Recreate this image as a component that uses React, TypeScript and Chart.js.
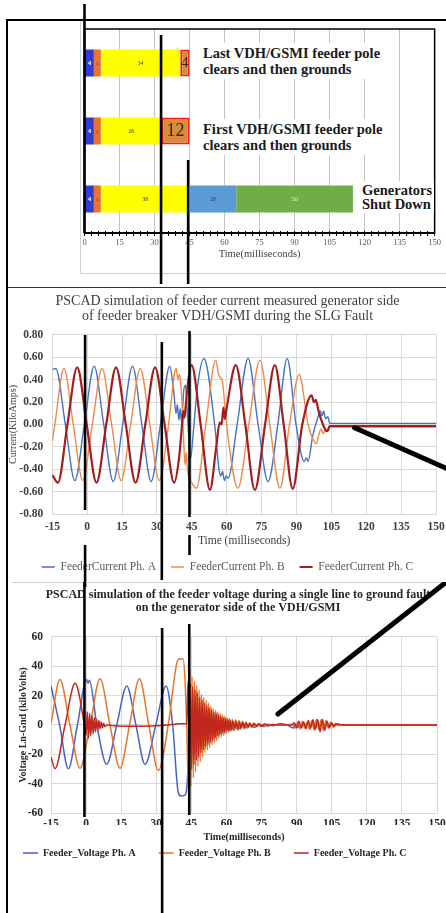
import React, { useEffect, useRef } from 'react';
import { Chart, registerables } from 'chart.js';

Chart.register(...registerables);

const SERIF = "'Liberation Serif', 'Times New Roman', Times, serif";
Chart.defaults.font.family = SERIF;

// ---------- Top chart: event timeline (stacked horizontal bars, ms) ----------
const TIMELINE_ROWS = ['Last VDH/GSMI feeder pole', 'First VDH/GSMI feeder pole', 'Generators Shut Down'];
const SEG_RELAY = [4, 4, 4];
const SEG_BREAKER = [3, 3, 3];
const SEG_CLEARING = [34, 26, 38];
const SEG_POLE = [4, 12, 20];
const SEG_SHUTDOWN = [null, null, 50];
const TIMELINE_TICKS = [0, 15, 30, 45, 60, 75, 90, 105, 120, 135, 150];

// ---------- Middle chart: feeder current (kA) vs time (ms) ----------
const TIME_TICKS = [-15, 0, 15, 30, 45, 60, 75, 90, 105, 120, 135, 150];
const CURRENT_TICKS = [-0.8, -0.6, -0.4, -0.2, 0, 0.2, 0.4, 0.6, 0.8];
const CURRENT_A: [number, number][] = [
  [-15, 0.49], [-13.5, 0.5], [-9.4, 0], [-5.3, -0.5], [-1.2, 0], [3, 0.52], [7.1, 0], [11.2, -0.51],
  [15.3, 0], [19.5, 0.52], [23.5, 0], [27.5, -0.51], [31.5, 0], [35.5, 0.52], [37.2, 0.3], [38.2, 0.1],
  [38.8, 0.18], [39.4, 0.04], [40, 0.14], [40.6, 0.02], [41.5, 0.3], [42.3, 0.35], [43.2, 0.05],
  [44.5, -0.3], [45.5, -0.1], [47.5, 0.35], [50.2, 0.59], [54.8, 0], [56.8, -0.42], [57.5, -0.46],
  [58.2, -0.42], [59, -0.5], [59.8, -0.46], [60.6, -0.48], [64.5, 0], [69.2, 0.59], [73.5, 0],
  [77.8, -0.51], [82, 0], [86, 0.59], [89.8, 0], [93.3, -0.33], [94.3, -0.3], [95, -0.33], [97, -0.1],
  [99, 0.05], [100.3, 0.12], [101, 0.08], [101.7, 0.12], [102.5, 0.05], [103.5, 0.07], [104.3, 0.01],
  [150, 0.01],
];
const CURRENT_B: [number, number][] = [
  [-15, -0.15], [-13.9, 0], [-10, 0.5], [-6, 0], [-1.9, -0.5], [2.2, 0], [6.4, 0.5], [10.5, 0],
  [14.6, -0.5], [18.7, 0], [22.8, 0.5], [26.9, 0], [31, -0.5], [35, 0], [37.5, 0.45], [38.3, 0.5],
  [39, 0.4], [39.7, 0.45], [40.3, 0.35], [41, 0.1], [41.6, -0.2], [42.1, -0.36], [42.6, -0.25],
  [43.1, -0.4], [45, -0.52], [47, -0.57], [51, 0], [55.3, 0.575], [56.5, 0.45], [57.2, 0.42],
  [58, 0.4], [59.5, 0.1], [60.5, -0.1], [64.8, -0.57], [69.5, 0], [74.3, 0.575], [78.5, 0],
  [82.9, -0.57], [87, 0], [91.2, 0.45], [92, 0.4], [95, 0], [97.5, -0.15], [98.6, -0.17],
  [99.5, -0.1], [100.5, -0.04], [101.5, -0.08], [102.5, -0.04], [103.5, -0.06], [104.3, -0.02],
  [150, -0.02],
];
const CURRENT_C: [number, number][] = [
  [-15, -0.45], [-12.6, -0.52], [-8.5, 0], [-4.3, 0.51], [-0.2, 0], [4, -0.52], [8.2, 0], [12.4, 0.51],
  [16.6, 0], [20.8, -0.52], [25, 0], [29.2, 0.51], [33.3, 0], [37.4, -0.52], [39.5, -0.3], [40.8, 0],
  [41.3, 0.12], [41.8, 0.06], [42.3, 0.15], [43.2, 0.35], [44.9, 0.53], [48.8, 0], [52.8, -0.585],
  [55.5, -0.2], [57, 0.02], [57.8, 0], [58.6, 0.15], [59.2, 0.05], [60, 0.15], [63.9, 0.53], [68, 0],
  [72.1, -0.585], [76.5, 0], [80.7, 0.53], [84.5, 0], [88.4, -0.575], [92.5, 0], [96.5, 0.26],
  [97.5, 0.2], [98.3, 0.22], [99.5, 0.12], [101, 0.02], [102.5, -0.05], [103.3, -0.06],
  [104.3, -0.015], [150, -0.015],
];

// ---------- Bottom chart: feeder voltage (kV) vs time (ms) ----------
const VOLT_TICKS = [-60, -40, -20, 0, 20, 40, 60];
const VOLT_A: [number, number][] = [
  [-15, 26.6], [-11.3, 0], [-7.6, -29.8], [-3.7, 0], [0.2, 31], [0.8, 28.5], [1.4, 30.5], [4.6, 0],
  [8.8, -26.8], [13.1, 0], [17.4, 26.6], [21.3, 0], [25.2, -26.8], [29.8, 0], [34.2, 26.6], [37, 0],
  [39.4, -46], [40.5, -48.4], [42, -48], [42.8, -46], [43.5, -30], [44, 8], [44.6, -28], [45.2, 5],
  [45.8, -22], [46.4, 3], [47, -20], [47.6, 2], [48.2, -18], [48.8, 0], [49.4, -16], [50, -1],
  [50.6, -14], [51.2, -2], [51.8, -12], [52.4, -2], [53, -10], [53.6, -2], [54.2, -9], [54.8, -2],
  [55.4, -8], [56, -2], [56.6, -7], [57.2, -2], [57.8, -6], [58.4, -1.5], [59, -5], [60, -1],
  [61, -4], [62, -1], [63, -3.5], [64, -0.5], [65, -3], [66.5, 0], [68, -2], [70, 0], [72, -1.5],
  [74, 0.5], [76, -1], [78, 0.5], [80, -0.5], [83, 1], [86, 0], [88.5, -2], [89.5, 0.5], [91, -1.5],
  [93, 0.5], [96, 0], [150, 0],
];
const VOLT_B: [number, number][] = [
  [-15, 1], [-11.2, 31], [-6.9, 0], [-2.6, -29.5], [1.7, 0], [6, 31.5], [10.2, 0], [14.5, -29.5],
  [18.6, 0], [22.8, 31.5], [26.8, 0], [30.9, -31], [35.1, 0], [38.5, 40], [39.5, 45], [41.5, 45],
  [42.3, 30], [43, 0], [43.8, -46], [44.3, 38], [44.8, -42], [45.3, 33], [45.8, -36], [46.3, 30],
  [46.8, -32], [47.3, 27], [47.8, -28], [48.3, 24], [48.8, -25], [49.3, 21], [49.8, -22], [50.3, 19],
  [50.8, -19], [51.3, 17], [51.8, -17], [52.3, 15], [52.8, -15.5], [53.3, 13], [53.8, -13.5],
  [54.3, 11.5], [54.8, -12], [55.3, 10], [55.8, -10.5], [56.3, 9], [56.8, -9], [57.3, 8], [57.8, -8],
  [58.3, 7], [58.8, -7], [59.3, 6], [59.8, -6], [60.3, 5], [60.8, -5], [61.3, 4.5], [61.8, -4.5],
  [62.5, 4], [63.2, -4], [63.9, 3.5], [64.6, -3.5], [65.3, 3], [66, -3], [66.7, 2.5], [67.4, -2.5],
  [68.2, 2], [69, -2], [69.8, 1.6], [70.6, -1.6], [71.5, 1.3], [72.5, -1.3], [73.5, 1.1], [74.5, -1],
  [76, 0.8], [77.5, -0.6], [79, 0.4], [81, 0.2], [83, 0.5], [85, 0], [88, 0.5], [89.5, -2],
  [90.5, 2], [91.5, -2.5], [92.5, 2.5], [93.5, -2], [94.5, 2], [95.5, -3], [96.5, 3], [97.5, -3.5],
  [98.5, 4], [99.5, -3], [100.5, 3.5], [101.5, -4], [102.5, 3], [103.5, -2], [104.5, 2], [105.5, -1.5],
  [106.5, 1], [108, -0.5], [110, 0], [150, 0],
];
const VOLT_C: [number, number][] = [
  [-15, -22], [-13.3, -29.8], [-9, 0], [-4.7, 28.4], [-0.7, 0], [0, -7], [0.5, 9], [1, -9], [1.5, 8],
  [2, -7.5], [2.5, 6.5], [3, -6], [3.5, 5], [4, -4.5], [4.5, 4], [5, -3.5], [5.5, 3], [6, -2.5],
  [6.5, 2], [7, -1.8], [7.5, 1.2], [8, -1], [9, 0], [12, -0.5], [20, -0.8], [28, -0.6], [35, 0],
  [40, 0.8], [43, 1], [43.6, 30], [44.1, -33], [44.6, 28], [45.1, -30], [45.6, 26], [46.1, -27],
  [46.6, 24], [47.1, -24], [47.6, 22], [48.1, -22], [48.6, 19], [49.1, -19], [49.6, 17], [50.1, -17],
  [50.6, 15], [51.1, -15], [51.6, 13.5], [52.1, -13.5], [52.6, 12], [53.1, -12], [53.6, 10.5],
  [54.1, -10.5], [54.6, 9], [55.1, -9], [55.6, 8], [56.1, -7.5], [56.6, 7], [57.1, -6.5], [57.6, 6],
  [58.1, -5.5], [58.6, 5], [59.1, -5], [59.6, 4.5], [60.1, -4], [60.6, 3.8], [61.1, -3.6], [61.6, 3.3],
  [62.1, -3.2], [62.8, 2.8], [63.5, -2.8], [64.2, 2.5], [64.9, -2.4], [65.6, 2.1], [66.3, -2.1],
  [67, 1.8], [67.7, -1.8], [68.5, 1.5], [69.3, -1.5], [70.1, 1.2], [70.9, -1.2], [72, 1], [73, -1],
  [74, 0.8], [75, -0.8], [76.5, 0.6], [78, -0.5], [80, 0.3], [82, 0], [88, 0], [89, 1.5], [90, -2],
  [91, 2.5], [92, -2], [93, 2], [94, -2.5], [95, 3], [96, -2], [97, 3.5], [98, -3], [99, 3.5],
  [100, -4.5], [101, 4], [102, -3.5], [103, 2.5], [104, -2], [105, 1.5], [106, -1], [107, 0.8],
  [109, 0.2], [112, 0], [150, 0],
];

// hand-drawn annotation markers (time in ms, vertical extent in canvas px)
const TOP_MARKS = [{ t: 0, y1: 4, y2: 233 }, { t: 32.8, y1: 35, y2: 284 }, { t: 44.4, y1: 160, y2: 284 }];
const MID_MARKS = [
  { t: -0.9, y1: 48, y2: 223 }, { t: -0.9, y1: 258, y2: 300 }, { t: 32.1, y1: 55, y2: 293 },
  { t: 44, y1: 44, y2: 230 }, { t: 44, y1: 248, y2: 268 },
];
const MID_POINTER: [number, number][] = [[115, -0.03], [158, -0.425]];
const BOT_MARKS = [{ t: -0.7, y1: 0, y2: 235 }, { t: 32.5, y1: 46, y2: 331 }, { t: 44.1, y1: 42, y2: 233 }];
const BOT_POINTER: [number, number][] = [[82, 7.5], [156, 100]];

const SEG_LABEL_STYLE = [
  [{ s: 7, c: '#ffffff', w: 'bold' }, { s: 7, c: '#ffffff', w: 'bold' }, { s: 7, c: '#ffffff', w: 'bold' }],
  [{ s: 5, c: '#333', w: 'normal' }, { s: 5, c: '#333', w: 'normal' }, { s: 5, c: '#333', w: 'normal' }],
  [{ s: 5.5, c: '#333', w: 'normal' }, { s: 5.5, c: '#333', w: 'normal' }, { s: 5.5, c: '#333', w: 'normal' }],
  [{ s: 15, c: '#3a2812', w: 'normal' }, { s: 18, c: '#3a2812', w: 'normal' }, { s: 5.5, c: '#333', w: 'normal' }],
  [null, null, { s: 7, c: '#e8e8e8', w: 'normal' }],
];

const pts = (arr: [number, number][]) => arr.map(([x, y]) => ({ x, y }));

function line(ctx: CanvasRenderingContext2D, x1: number, y1: number, x2: number, y2: number) {
  ctx.beginPath();
  ctx.moveTo(x1, y1);
  ctx.lineTo(x2, y2);
  ctx.stroke();
}

function drawMarks(chart: any, marks: { t: number; y1: number; y2: number }[]) {
  const ctx = chart.ctx;
  const xs = chart.scales.x;
  ctx.save();
  ctx.strokeStyle = '#000';
  ctx.lineWidth = 2.6;
  marks.forEach((m) => {
    const x = xs.getPixelForValue(m.t);
    line(ctx, x, m.y1, x, m.y2);
  });
  ctx.restore();
}

function drawPointer(chart: any, p: [number, number][]) {
  const ctx = chart.ctx;
  const xs = chart.scales.x;
  const ys = chart.scales.y;
  ctx.save();
  ctx.strokeStyle = '#000';
  ctx.lineWidth = 5;
  ctx.lineCap = 'round';
  line(ctx, xs.getPixelForValue(p[0][0]), ys.getPixelForValue(p[0][1]), xs.getPixelForValue(p[1][0]), ys.getPixelForValue(p[1][1]));
  ctx.restore();
}

const barLabelPlugin = {
  id: 'barLabels',
  afterDatasetsDraw(chart: any) {
    const ctx = chart.ctx;
    chart.data.datasets.forEach((ds: any, di: number) => {
      const meta = chart.getDatasetMeta(di);
      meta.data.forEach((el: any, i: number) => {
        const v = ds.data[i];
        const st = SEG_LABEL_STYLE[di][i];
        if (v == null || !st) return;
        const p = el.getProps(['x', 'y', 'base'], true);
        ctx.save();
        ctx.font = `${st.w} ${st.s}px ${SERIF}`;
        ctx.fillStyle = st.c;
        ctx.textAlign = 'center';
        ctx.textBaseline = 'middle';
        ctx.fillText(String(v), (p.x + p.base) / 2, p.y + 0.5);
        ctx.restore();
      });
    });
  },
};

const topOverlay = {
  id: 'topOverlay',
  afterDraw(chart: any) {
    const ctx = chart.ctx;
    const a = chart.chartArea;
    const xs = chart.scales.x;
    ctx.save();
    ctx.strokeStyle = '#d0d0d0';
    ctx.lineWidth = 1;
    line(ctx, 80.5, 20, 80.5, 273.5);
    line(ctx, 80.5, 273.5, 446, 273.5);
    ctx.strokeStyle = '#000';
    ctx.lineWidth = 1.5;
    ctx.strokeRect(a.left, a.top, a.right - a.left, a.bottom - a.top);
    ctx.lineWidth = 1;
    for (let v = 0; v <= 150; v += 3) {
      const x = xs.getPixelForValue(v);
      line(ctx, x, a.bottom - 2, x, a.bottom + 3);
    }
    ctx.lineWidth = 2;
    line(ctx, 6, 20, 446, 20);
    line(ctx, 7, 19, 7, 287);
    ctx.restore();
    drawMarks(chart, TOP_MARKS);
  },
};

const midOverlay = {
  id: 'midOverlay',
  afterDraw(chart: any) {
    const ctx = chart.ctx;
    ctx.save();
    ctx.strokeStyle = '#333';
    ctx.lineWidth = 1;
    line(ctx, 7, 0.5, 446, 0.5);
    ctx.strokeStyle = '#000';
    ctx.lineWidth = 2;
    line(ctx, 7, 0, 7, 300);
    ctx.restore();
    drawMarks(chart, MID_MARKS);
    drawPointer(chart, MID_POINTER);
  },
};

const botOverlay = {
  id: 'botOverlay',
  afterDraw(chart: any) {
    const ctx = chart.ctx;
    ctx.save();
    ctx.strokeStyle = '#cfcfcf';
    ctx.lineWidth = 1;
    line(ctx, 12, 0.5, 446, 0.5);
    ctx.strokeStyle = '#000';
    ctx.lineWidth = 2;
    line(ctx, 7, 0, 7, 331);
    ctx.restore();
    drawMarks(chart, BOT_MARKS);
    drawPointer(chart, BOT_POINTER);
  },
};

const ticksFrom = (arr: number[]) => (s: any) => {
  s.ticks = arr.map((value) => ({ value }));
};

function barConfig(): any {
  const common = { barPercentage: 0.4, categoryPercentage: 1, borderWidth: 0 };
  return {
    type: 'bar',
    data: {
      labels: TIMELINE_ROWS,
      datasets: [
        { ...common, data: SEG_RELAY, backgroundColor: '#2f3dd2' },
        { ...common, data: SEG_BREAKER, backgroundColor: '#e8742e' },
        { ...common, data: SEG_CLEARING, backgroundColor: '#ffff00' },
        {
          ...common,
          data: SEG_POLE,
          backgroundColor: ['#d98b3c', '#d98b3c', '#5b9bd5'],
          borderColor: ['#ff1a1a', '#ff1a1a', 'rgba(0,0,0,0)'],
          borderWidth: [2, 2, 0],
          borderSkipped: false,
        },
        { ...common, data: SEG_SHUTDOWN, backgroundColor: '#70ad47' },
      ],
    },
    options: {
      indexAxis: 'y',
      animation: false,
      responsive: false,
      devicePixelRatio: 1,
      events: [],
      layout: { padding: { left: 84.5, right: 6.7, top: 29, bottom: 25 } },
      plugins: { legend: { display: false }, tooltip: { enabled: false }, title: { display: false } },
      scales: {
        x: {
          type: 'linear',
          min: 0,
          max: 150,
          stacked: true,
          afterBuildTicks: ticksFrom(TIMELINE_TICKS),
          ticks: { autoSkip: false, maxRotation: 0, padding: 5, color: '#595959', font: { family: SERIF, size: 8.5 } },
          grid: { color: '#c4c4c4', drawTicks: false, lineWidth: 1 },
          border: { color: '#000', width: 2 },
          title: {
            display: true,
            text: 'Time(milliseconds)',
            color: '#404040',
            font: { family: SERIF, size: 10.5 },
            padding: { top: 0, bottom: 1 },
          },
          afterFit: (s: any) => {
            s.height = 29;
          },
        },
        y: { type: 'category', stacked: true, display: false },
      },
    },
    plugins: [barLabelPlugin, topOverlay],
  };
}

function lineDs(label: string, data: [number, number][], color: string, width: number, order: number) {
  return {
    label,
    data: pts(data),
    borderColor: color,
    backgroundColor: color,
    borderWidth: width,
    pointRadius: 0,
    cubicInterpolationMode: 'monotone',
    fill: false,
    order,
  };
}

function currentConfig(): any {
  const tickFont = { family: SERIF, size: 11.5, weight: 'bold' };
  return {
    type: 'line',
    data: {
      datasets: [
        lineDs('FeederCurrent Ph. A', CURRENT_A, '#4472c4', 1.4, 2),
        lineDs('FeederCurrent Ph. B', CURRENT_B, '#ef8a4a', 1.4, 1),
        lineDs('FeederCurrent Ph. C', CURRENT_C, '#a21d1d', 2.2, 0),
      ],
    },
    options: {
      animation: false,
      responsive: false,
      devicePixelRatio: 1,
      events: [],
      layout: { padding: { left: 0, right: 0, top: 0, bottom: 4.25 } },
      plugins: {
        tooltip: { enabled: false },
        title: {
          display: true,
          text: ['PSCAD simulation of feeder current measured generator side', 'of feeder breaker VDH/GSMI during the SLG Fault'],
          color: '#404040',
          font: { family: SERIF, size: 14, weight: 'normal', lineHeight: 1.07 },
          padding: { top: 6.5, bottom: 11.5 },
        },
        legend: {
          display: true,
          position: 'bottom',
          align: 'center',
          labels: {
            usePointStyle: true,
            pointStyle: 'line',
            pointStyleWidth: 13,
            padding: 15,
            color: '#595959',
            font: { family: SERIF, size: 11.5 },
            sort: (a: any, b: any) => a.datasetIndex - b.datasetIndex,
          },
        },
      },
      scales: {
        x: {
          type: 'linear',
          min: -15,
          max: 150,
          afterBuildTicks: ticksFrom(TIME_TICKS),
          ticks: { autoSkip: false, maxRotation: 0, padding: 6.4, color: '#404040', font: tickFont },
          grid: { color: '#d9d9d9', drawTicks: false },
          border: { color: '#d9d9d9' },
          title: {
            display: true,
            text: 'Time (milliseconds)',
            color: '#404040',
            font: { family: SERIF, size: 11.5 },
            padding: { top: 0, bottom: -1.65 },
          },
          afterFit: (s: any) => {
            s.height = 32.25;
          },
        },
        y: {
          type: 'linear',
          min: -0.8,
          max: 0.8,
          afterBuildTicks: ticksFrom(CURRENT_TICKS),
          ticks: { padding: 9, color: '#404040', font: tickFont, callback: (v: any) => Number(v).toFixed(2) },
          grid: { color: '#d9d9d9', drawTicks: false },
          border: { color: '#d9d9d9' },
          title: {
            display: true,
            text: 'Current(KiloAmps)',
            color: '#404040',
            font: { family: SERIF, size: 10 },
            padding: { top: 7.5, bottom: 0 },
          },
          afterFit: (s: any) => {
            s.width = 52.3;
          },
        },
        yR: {
          type: 'linear',
          position: 'right',
          display: true,
          ticks: { display: false },
          grid: { drawOnChartArea: false, drawTicks: false },
          border: { display: false },
          afterFit: (s: any) => {
            s.width = 19;
          },
        },
      },
    },
    plugins: [midOverlay],
  };
}

function voltageConfig(): any {
  const tickFont = { family: SERIF, size: 11.5, weight: 'bold' };
  return {
    type: 'line',
    data: {
      datasets: [
        lineDs('Feeder_Voltage Ph. A', VOLT_A, '#4a62c6', 1.5, 2),
        lineDs('Feeder_Voltage Ph. B', VOLT_B, '#e8742a', 1.5, 1),
        lineDs('Feeder_Voltage Ph. C', VOLT_C, '#c0271d', 1.5, 0),
      ],
    },
    options: {
      animation: false,
      responsive: false,
      devicePixelRatio: 1,
      events: [],
      layout: { padding: { left: 0, right: 0, top: 0, bottom: 45 } },
      plugins: {
        tooltip: { enabled: false },
        title: {
          display: true,
          text: ['PSCAD simulation of the feeder voltage during a single line to ground fault', 'on the generator side of the VDH/GSMI'],
          color: '#262626',
          font: { family: SERIF, size: 12, weight: 'bold', lineHeight: 1.083 },
          padding: { top: 6.5, bottom: 22.5 },
        },
        legend: {
          display: true,
          position: 'bottom',
          align: 'start',
          labels: {
            usePointStyle: true,
            pointStyle: 'line',
            pointStyleWidth: 15,
            padding: 23,
            color: '#262626',
            font: { family: SERIF, size: 10, weight: 'bold' },
            sort: (a: any, b: any) => a.datasetIndex - b.datasetIndex,
          },
        },
      },
      scales: {
        x: {
          type: 'linear',
          min: -15,
          max: 150,
          afterBuildTicks: ticksFrom(TIME_TICKS),
          ticks: { autoSkip: false, maxRotation: 0, padding: 4.1, color: '#262626', font: tickFont },
          grid: { color: '#d9d9d9', drawTicks: false },
          border: { color: '#d9d9d9' },
          title: {
            display: true,
            text: 'Time(milliseconds)',
            color: '#262626',
            font: { family: SERIF, size: 10, weight: 'bold' },
            padding: { top: 0, bottom: -18 },
          },
          afterFit: (s: any) => {
            s.height = 12;
          },
        },
        y: {
          type: 'linear',
          min: -60,
          max: 60,
          afterBuildTicks: ticksFrom(VOLT_TICKS),
          ticks: { padding: 8, color: '#262626', font: tickFont },
          grid: { color: '#d9d9d9', drawTicks: false },
          border: { color: '#d9d9d9' },
          title: {
            display: true,
            text: 'Voltage Ln-Gnd (kiloVolts)',
            color: '#262626',
            font: { family: SERIF, size: 10, weight: 'bold' },
            padding: { top: 17.5, bottom: 0 },
          },
          afterFit: (s: any) => {
            s.width = 51;
          },
        },
        yR: {
          type: 'linear',
          position: 'right',
          display: true,
          ticks: { display: false },
          grid: { drawOnChartArea: false, drawTicks: false },
          border: { display: false },
          afterFit: (s: any) => {
            s.width = 39;
          },
        },
      },
    },
    plugins: [botOverlay],
  };
}

const noteStyle: React.CSSProperties = {
  position: 'absolute',
  fontFamily: SERIF,
  fontWeight: 'bold',
  fontSize: '14.5px',
  color: '#1a1a1a',
  background: '#ffffff',
  padding: '2px 2px',
  whiteSpace: 'nowrap',
};

export default function App() {
  const r1 = useRef<HTMLCanvasElement>(null);
  const r2 = useRef<HTMLCanvasElement>(null);
  const r3 = useRef<HTMLCanvasElement>(null);

  useEffect(() => {
    const c1 = new Chart(r1.current as HTMLCanvasElement, barConfig());
    const c2 = new Chart(r2.current as HTMLCanvasElement, currentConfig());
    const c3 = new Chart(r3.current as HTMLCanvasElement, voltageConfig());
    return () => {
      c1.destroy();
      c2.destroy();
      c3.destroy();
    };
  }, []);

  return (
    <div style={{ position: 'absolute', left: 0, top: 0, width: 446, height: 913, overflow: 'hidden', background: '#fff' }}>
      <canvas ref={r1} width={446} height={287} style={{ position: 'absolute', left: 0, top: 0 }} />
      <canvas ref={r2} width={455} height={300} style={{ position: 'absolute', left: 0, top: 287 }} />
      <canvas ref={r3} width={476} height={331} style={{ position: 'absolute', left: 0, top: 582 }} />
      <div style={{ ...noteStyle, left: 201, top: 43, lineHeight: '16px' }}>
        Last VDH/GSMI feeder pole
        <br />
        clears and then grounds
      </div>
      <div style={{ ...noteStyle, left: 201, top: 119, lineHeight: '16px' }}>
        First VDH/GSMI feeder pole
        <br />
        clears and then grounds
      </div>
      <div style={{ ...noteStyle, left: 360, top: 181, lineHeight: '14px' }}>
        Generators
        <br />
        Shut Down
      </div>
    </div>
  );
}
